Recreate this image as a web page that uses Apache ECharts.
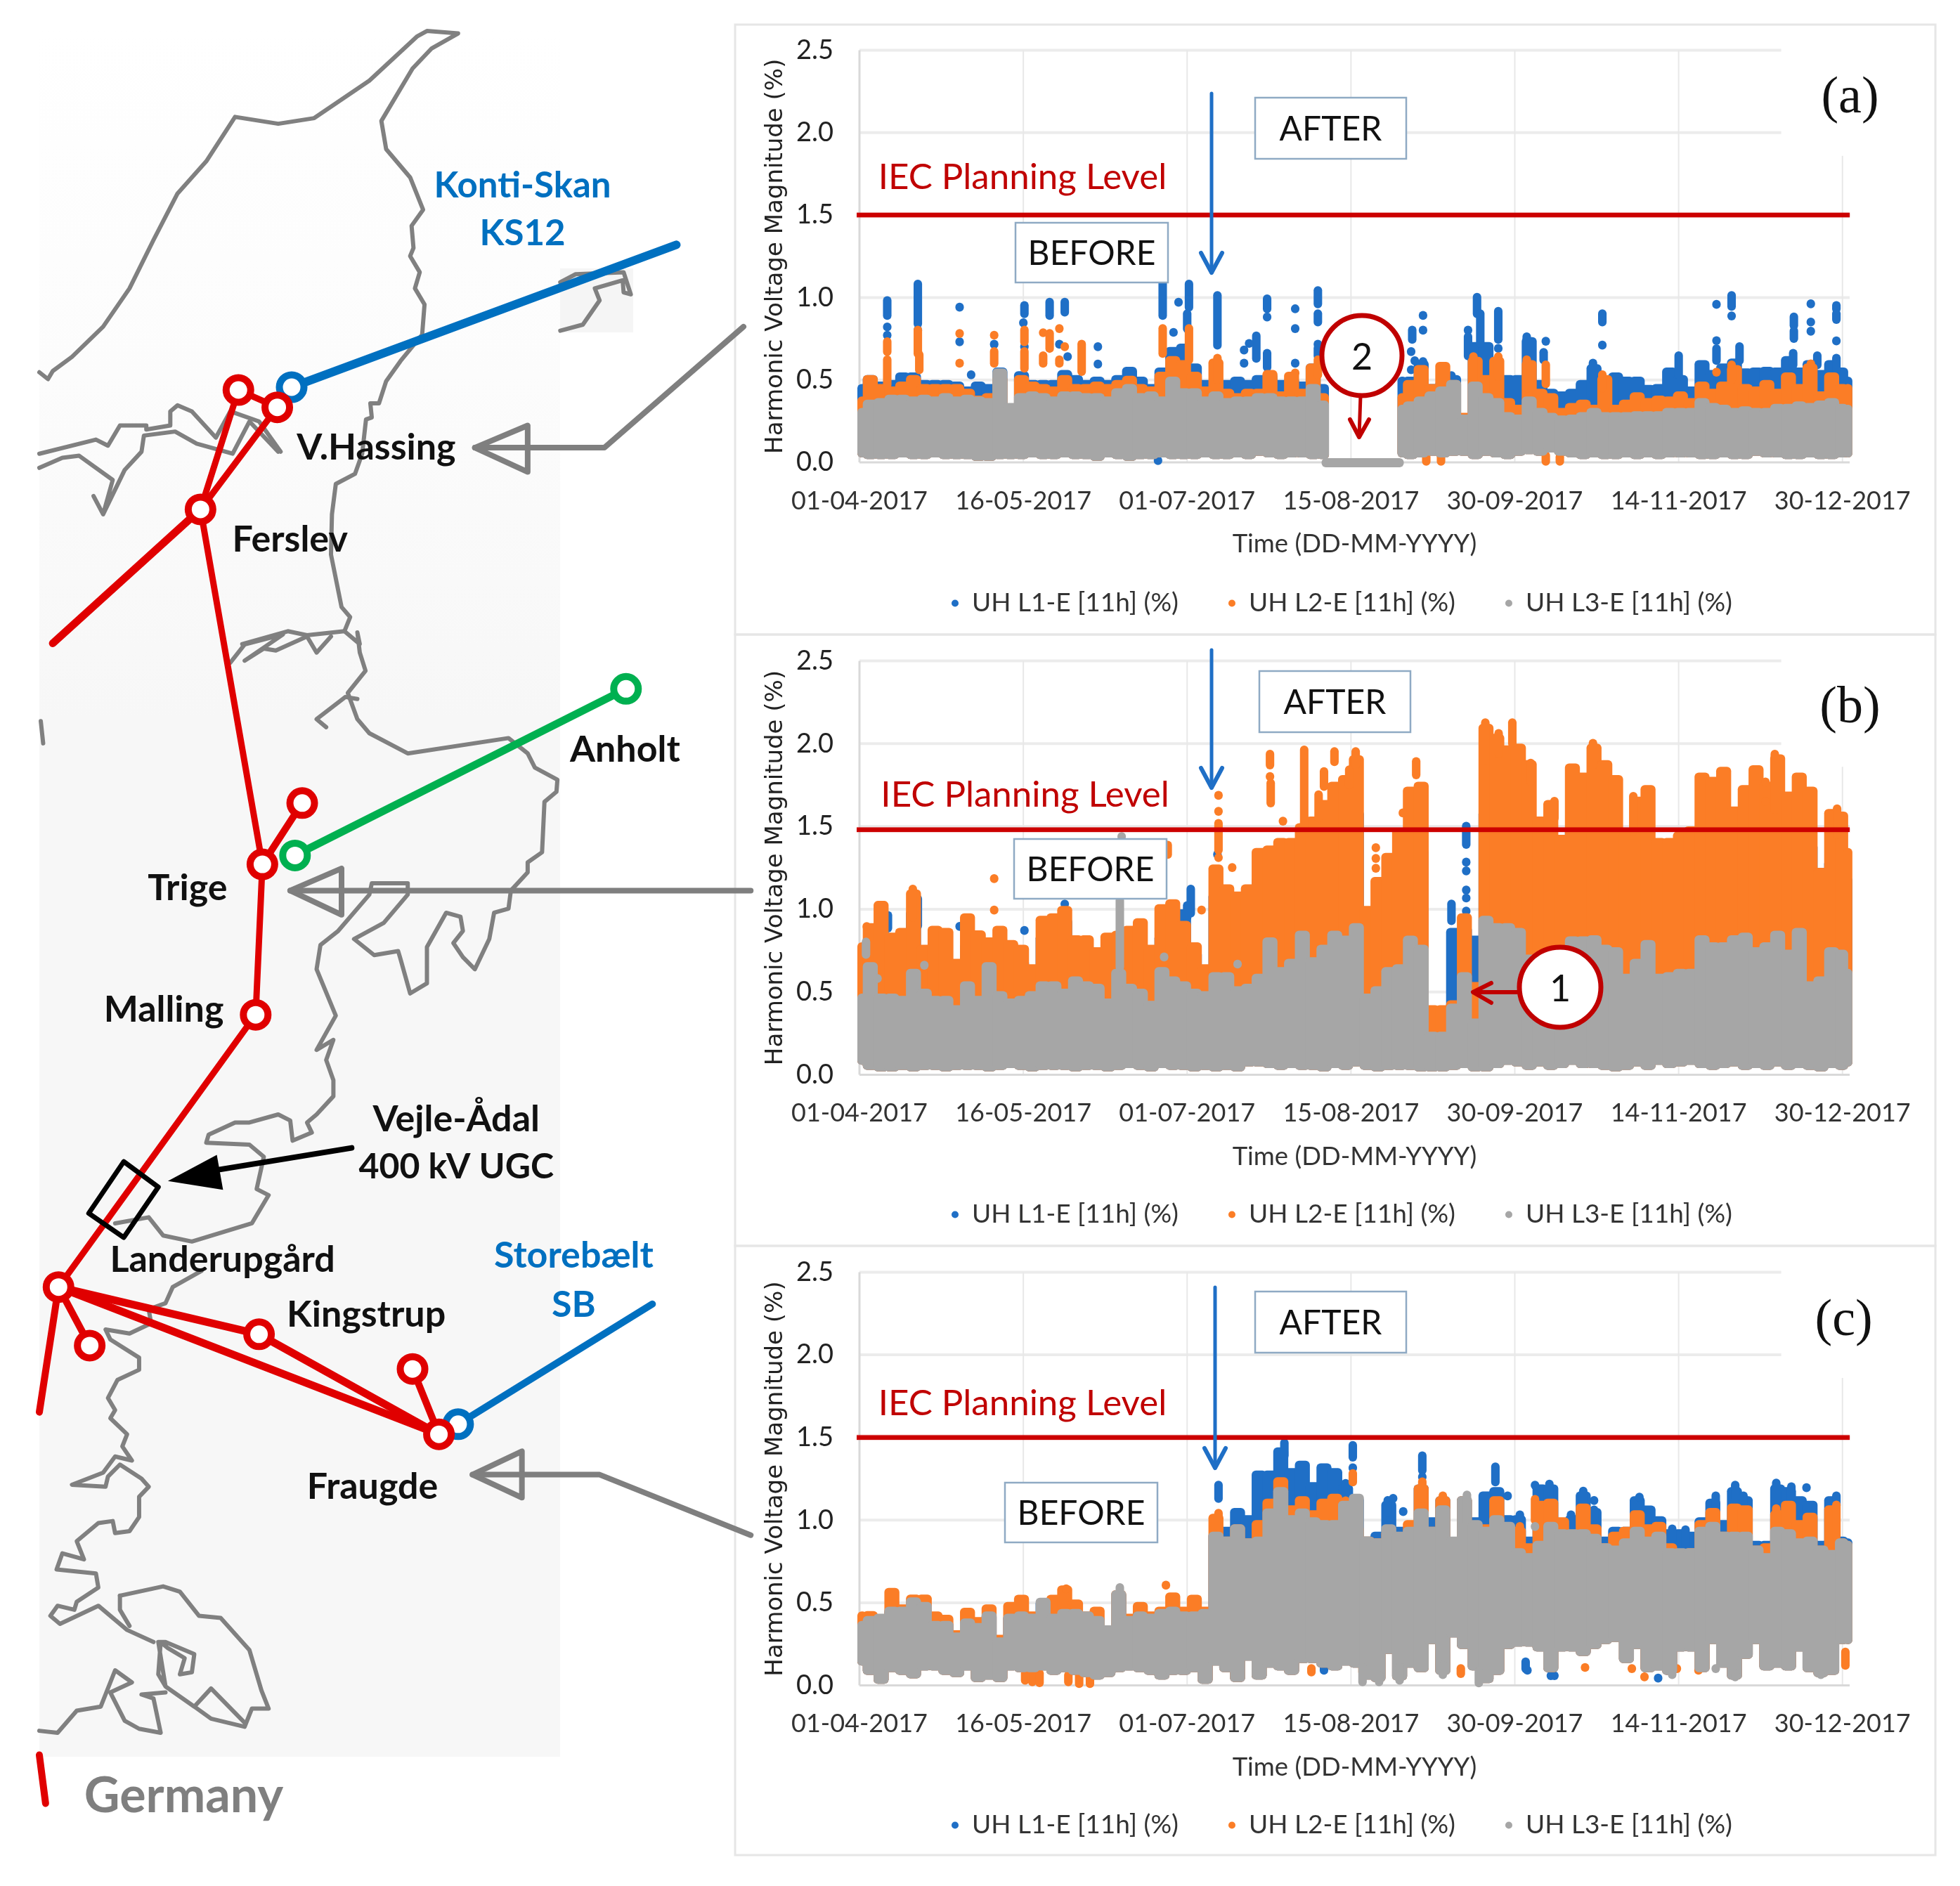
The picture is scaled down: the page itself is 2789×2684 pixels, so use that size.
<!DOCTYPE html>
<html><head><meta charset="utf-8">
<style>html,body{margin:0;padding:0;background:#fff}#c{width:2789px;height:2684px}</style>
<script src="https://cdn.jsdelivr.net/npm/echarts@6/dist/echarts.min.js"></script>
</head><body><div id="c"></div>
<script>
// ---------- chart data ----------
const tickLabels = ['01-04-2017','16-05-2017','01-07-2017','15-08-2017','30-09-2017','14-11-2017','30-12-2017'];
const seriesNames = ['UH L1-E [11h] (%)','UH L2-E [11h] (%)','UH L3-E [11h] (%)'];
// envelope sample days: 0,3,6 ... 273, 275
const binDays = [0,3,6,9,12,15,18,21,24,27,30,33,36,39,42,45,48,51,54,57,60,63,66,69,72,75,78,81,84,87,90,93,96,99,102,105,108,111,114,117,120,123,126,129,132,135,138,141,144,147,150,153,156,159,162,165,168,171,174,177,180,183,186,189,192,195,198,201,204,207,210,213,216,219,222,225,228,231,234,237,240,243,246,249,252,255,258,261,264,267,270,273,275];
const _ = null;
// Panel (a)
const topAL3 = [.33,.38,.39,.41,.41,.40,.41,.40,.42,.40, .41,.40,.39,.57,.36,.42,.43,.42,.40,.43, .43,.42,.42,.40,.45,.475,.42,.43,.40,.52, .45,.45,.40,.43,.39,.40,.40,.42,.42,.40, .40,.40,.475,.375,_,_,_,_,_,_, .35,.37,.40,.43,.46,.50,.29,.49,.42,.39, .305,.29,.40,.33,.30,.285,.29,.305,.33,.305, .305,.305,.31,.31,.31,.33,.33,.33,.39,.36, .35,.33,.34,.33,.33,.355,.355,.37,.36,.375, .39,.355,.35];
const topAL2 = [.40,.53,.475,.46,.49,.53,.475,.475,.475,.475, .447,.405,.42,.53,.355,.53,.49,.475,.46,.53, .475,.475,.49,.475,.50,.525,.475,.46,.55,.645, .62,.55,.46,.63,.447,.42,.447,.447,.56,.43, .55,.447,.60,.42,_,_,_,_,_,_, .42,.50,.59,.475,.61,.50,.30,.64,.53,.64, .39,.35,.62,.447,.42,.33,.36,.38,.35,.53, .35,.38,.425,.39,.405,.40,.43,.39,.49,.447, .49,.59,.475,.46,.50,.447,.546,.475,.60,.43, .546,.475,.475];
const topAL1 = [.475,.53,.49,.50,.546,.546,.50,.50,.50,.49, .46,.49,.475,.575,.355,.553,.50,.50,.50,.56, .53,.50,.52,.50,.53,.58,.52,.475,.575,.70, .72,.60,.50,.50,.50,.52,.50,.53,.546,.50, .52,.49,.60,.475,_,_,_,_,_,_, .52,.52,.62,.475,.50,.53,.29,.73,.73,.46, .53,.53,.76,.50,.447,.43,.447,.50,.596,.52, .546,.52,.52,.47,.475,.575,.53,.46,.62,.56, .60,.63,.57,.575,.58,.575,.645,.575,.62,.56, .62,.575,.52];
const lowA = [.03,.02,.02,.02,.03,.02,.02,.03,.02,.02, .02,.01,.01,.02,.02,.02,.03,.02,.02,.03, .02,.02,.01,.03,.02,.01,.02,.02,.03,.02, .02,.02,.03,.02,.02,.03,.02,.04,.03,.02, .03,.03,.02,.02,_,_,_,_,_,_, .03,.02,.03,.04,.03,.04,.04,.02,.04,.03, .02,.04,.05,.04,.06,.04,.03,.02,.03,.02, .02,.03,.02,.03,.02,.03,.03,.03,.02,.02, .03,.02,.02,.04,.03,.03,.02,.02,.03,.02, .02,.03,.03];
// Panel (b)
const topBL3 = [.49,.68,.49,.49,.476,.64,.52,.476,.476,.42, .565,.476,.68,.505,.46,.476,.505,.565,.565,.52, .594,.565,.55,.46,.64,.55,.52,.447,.65,.594, .565,.52,.505,.62,.62,.535,.55,.61,.83,.65, .70,.87,.71,.785,.87,.84,.916,.49,.535,.65, .667,.84,.785,.26,.26,.43,.62,.34,.96,.916, .916,.887,.726,.74,.726,.755,.836,.836,.843,.785, .77,.61,.70,.814,.61,.62,.64,.64,.843,.80, .80,.843,.858,.77,.80,.87,.755,.887,.565,.594, .77,.755,.64];
const topBL2 = [.80,.916,1.05,.858,.887,1.12,.785,.90,.887,.70, .975,.872,.83,.90,.814,.785,.667,.96,.975,1.02, .843,.843,.77,.858,.87,.90,.945,.785,1.03,1.06, .93,.80,.667,1.27,1.15,1.107,1.15,1.37,1.385,1.43, 1.43,1.52,1.56,1.66,1.77,1.81,1.93,1.02,1.195,1.34, 1.49,1.74,1.77,.42,.42,.45,.975,.56,2.12,2.06, 1.99,2.0,1.90,1.56,1.66,1.45,1.88,1.825,2.0,1.90, 1.81,1.47,1.68,1.75,1.43,1.43,1.47,1.50,1.825,1.80, 1.86,1.62,1.75,1.87,1.77,1.935,1.71,1.825,1.74,1.25, 1.605,1.59,1.37];
const topBL1 = [.70,.80,.90,.84,.80,1.0,.70,.70,.70,.65, .80,.75,.70,.75,.70,.70,.60,.85,.85,.95, .75,.75,.65,.70,.70,.75,.80,.70,.85,.90, 1.0,.75,.60,1.1,1.0,1.0,1.0,1.2,1.2,1.3, 1.3,1.4,1.4,1.5,1.5,1.6,1.6,.9,1.0,1.2, 1.3,1.4,1.37,.26,.26,.887,.90,.84,1.6,1.6, 1.6,1.6,1.5,1.3,1.4,1.3,1.5,1.5,1.6,1.6, 1.5,1.3,1.4,1.4,1.2,1.2,1.2,1.3,1.5,1.5, 1.5,1.4,1.5,1.5,1.5,1.5,1.4,1.5,1.4,1.1, 1.3,1.3,1.2];
const lowB = [.06,.03,.02,.02,.03,.02,.03,.03,.02,.03, .03,.03,.02,.03,.04,.03,.02,.03,.03,.03, .02,.03,.03,.02,.03,.04,.03,.02,.04,.03, .03,.02,.03,.02,.03,.02,.05,.05,.04,.03, .04,.03,.03,.02,.04,.03,.05,.03,.02,.03, .03,.03,.02,.02,.02,.03,.04,.02,.02,.04, .06,.05,.03,.05,.03,.04,.06,.04,.04,.03, .02,.03,.05,.03,.06,.04,.05,.06,.04,.03, .04,.05,.03,.04,.03,.05,.03,.04,.03,.02, .04,.03,.05];
// Panel (c)
const topCL3 = [.39,.42,.434,.476,.476,.533,.505,.39,.39,.32, .405,.377,.448,.29,.434,.448,.434,.53,.434,.462, .462,.448,.42,.363,.576,.42,.448,.434,.462,.476, .448,.448,.462,.93,.90,.975,.89,.90,1.07,1.20, 1.03,1.07,1.017,1.0,1.0,1.117,1.16,.90,.89,.975, .93,.96,1.07,.96,1.09,.90,1.145,1.0,.96,1.03, .99,.83,.80,.875,.99,.945,.945,.945,.917,.86, .846,.89,.96,.90,.93,.83,.83,.83,.96,.99, .93,.93,.93,.846,.80,.96,.945,.89,.90,.846, .82,.89,.875];
const topCL2 = [.448,.45,.43,.59,.49,.55,.55,.448,.427,.334, .47,.413,.49,.306,.505,.548,.448,.462,.548,.605, .52,.448,.476,.363,.576,.434,.505,.448,.476,.562, .476,.548,.476,1.038,.90,.975,.89,1.0,1.13,1.26, 1.09,1.145,1.06,1.13,1.16,1.10,.97,.90,.89,.945, .917,1.0,1.216,.96,1.145,.80,1.145,.975,.975,1.145, .975,.96,.86,1.117,1.13,1.017,.89,1.10,.975,.86, .93,.96,1.06,.975,.99,.86,.82,.83,1.0,1.074, .93,1.10,1.09,.846,.86,1.06,1.117,1.0,1.045,.846, 1.09,.89,.875];
const topCL1 = [.40,.42,.43,.47,.47,.52,.50,.39,.39,.32, .40,.37,.44,.29,.43,.44,.43,.52,.43,.46, .46,.44,.42,.36,.57,.42,.44,.43,.46,.47, .44,.44,.46,.93,.96,1.074,1.03,1.30,1.30,1.44, 1.315,1.36,1.23,1.344,1.315,1.216,1.145,.90,.93,1.117, .96,.975,1.216,1.017,1.145,.80,1.145,1.017,1.174,1.20, 1.03,1.03,.90,1.216,1.216,.945,1.03,1.174,1.074,.90, .96,.96,1.145,1.088,1.024,.945,.945,.93,1.017,1.13, 1.0,1.20,1.145,.875,.875,1.216,1.20,1.145,1.117,.875, 1.145,.90,.89];
const lowC = [.12,.064,.01,.08,.064,.043,.09,.09,.064,.05, .09,.02,.035,.02,.09,.08,.08,.09,.064,.08, .064,.05,.035,.05,.08,.09,.08,.064,.035,.064, .064,.08,.01,.12,.08,.02,.15,.035,.107,.09, .064,.135,.135,.107,.09,.12,.107,.035,.02,.19, .03,.107,.08,.25,.064,.29,.22,.09,.014,.064, .22,.235,.235,.205,.08,.205,.205,.178,.22,.25, .263,.135,.22,.08,.09,.064,.205,.205,.08,.25, .107,.035,.16,.25,.09,.107,.09,.205,.08,.05, .064,.25,.25];
// isolated runs of dots: [day, lowest, highest]
const dotsAL1 = [[7.7,.89,.98],[7.7,.82,.82],[7.7,.77,.77],[16.2,.84,1.08],[16.2,.80,.80],[27.8,.94,.94],[27.8,.73,.73],[31,.53,.53],[37.4,.715,.715],[45.8,.90,.95],[45.5,.845,.845],[45.8,.70,.70],[52.8,.89,.97],[57,.91,.97],[55.5,.715,.715],[57.8,.64,.64],[66.2,.70,.70],[66.2,.595,.595],[84.2,.89,1.09],[88.6,.97,.97],[87.2,.787,.787],[91.5,.94,1.08],[91,.81,.90],[99.4,.71,1.01],[110.2,.63,.765],[108.2,.72,.72],[106.8,.68,.68],[106.8,.60,.60],[113.2,.93,.99],[113.2,.88,.88],[113.2,.575,.66],[121,.93,.93],[121,.81,.81],[121,.60,.60],[127.3,.96,1.04],[127.3,.85,.90],[127.3,.715,.715],[127.3,.645,.69],[82.9,.01,.01],[156.5,.89,.89],[156.5,.80,.80],[156.5,.61,.61],[153.5,.745,.80],[153.2,.67,.67],[154.2,.615,.615],[153.2,.56,.56],[164.4,.525,.525],[171.5,.90,1.0],[172.4,.72,.90],[169,.80,.80],[169,.645,.76],[177.4,.745,.915],[177.4,.69,.69],[185.3,.63,.76],[190.6,.733,.733],[190,.62,.665],[203.7,.50,.60],[206.3,.85,.90],[206.3,.71,.71],[227.5,.53,.645],[238,.957,.957],[238,.737,.737],[238,.617,.688],[242.2,.945,1.01],[242.2,.887,.887],[244.4,.617,.70],[259.5,.83,.88],[259.5,.75,.795],[259.3,.59,.66],[264.2,.96,.96],[264.2,.85,.85],[264.2,.794,.794],[266,.59,.645],[271.3,.93,.95],[271.3,.865,.90],[271.3,.735,.735],[271.3,.546,.63]];
const dotsAL2 = [[7.7,.67,.73],[7.7,.47,.62],[16.2,.66,.80],[16.6,.56,.65],[27.8,.78,.78],[27.8,.60,.60],[37.4,.77,.77],[37.4,.60,.67],[45.8,.73,.80],[45.8,.57,.67],[52.8,.69,.78],[51,.785,.785],[51,.60,.645],[55.5,.81,.81],[57,.70,.70],[55.5,.60,.62],[61.7,.55,.715],[84.2,.66,.81],[91.5,.62,.81],[99.4,.50,.63],[121,.54,.54],[127.3,.53,.62],[170.5,.49,.64],[177.4,.52,.64],[185.3,.45,.62],[190.6,.475,.59],[206.3,.45,.53],[238,.546,.546],[242.2,.50,.59],[264.2,.596,.596],[157.4,.005,.03],[161.5,.005,.03],[190.6,.005,.04],[194.5,.005,.03]];
const dotsAL3 = [];
const dotsBL1 = [[16.2,.90,1.06],[7.9,.885,.96],[27.8,.895,.895],[45.8,.87,.87],[57,1.03,1.03],[92,.975,1.12],[91,.95,1.02],[98.4,.785,.887],[99.4,1.33,1.33],[156.5,1.30,1.37],[164.4,.93,1.03],[168.5,1.39,1.50],[168.5,1.283,1.283],[168.5,1.23,1.23],[168.5,1.114,1.114],[168.5,1.066,1.066],[168.5,.987,.987]];
const dotsBL2 = [[2,.894,.894],[14.8,.95,1.12],[37.4,1.183,1.183],[37.4,.993,.993],[85.6,1.33,1.385],[95,.993,.993],[103.5,1.25,1.25],[99.7,1.686,1.686],[99.7,1.59,1.59],[99.7,1.356,1.517],[99.7,1.31,1.31],[114,1.87,1.935],[114,1.80,1.80],[114.2,1.64,1.76],[123.5,1.5,1.96],[117.6,1.53,1.53],[127.5,1.55,1.69],[131.9,1.89,1.95],[136,1.75,1.84],[137.8,1.87,1.95],[129,1.74,1.83],[143.4,1.37,1.37],[143.4,1.305,1.305],[143.4,1.246,1.246],[154.6,1.81,1.89],[150.9,1.58,1.58],[173.8,1.90,2.125],[181.3,2.0,2.125],[177.5,1.94,2.06],[186.4,1.77,1.88],[193,1.55,1.65],[203.7,1.87,2.0],[214.9,1.47,1.68],[251.6,1.767,1.767],[251.6,1.65,1.65],[254.2,1.6,1.935],[271.5,1.45,1.605]];
const dotsBL3 = [[1.8,.726,.80],[72.3,.65,1.05],[72.8,1.437,1.437],[84.6,.71,.71],[5,.58,.58],[18,.66,.66],[105,.667,.667]];
const dotsCL1 = [[99.7,1.13,1.21],[118,1.39,1.465],[125.5,.19,.19],[129,.09,.13],[137,1.38,1.45],[137,1.315,1.315],[135,1.145,1.22],[156.3,1.30,1.387],[156.3,1.26,1.26],[146.7,1.045,1.117],[148.2,1.13,1.13],[151,1.05,1.05],[176.6,1.23,1.32],[180,1.145,1.145],[187.6,1.21,1.21],[191.6,1.145,1.216],[183.4,.99,1.03],[201,1.117,1.174],[204,1.117,1.117],[204,1.0,1.06],[197.6,.96,1.03],[216.6,1.138,1.138],[225.7,.875,.945],[229.4,.85,.94],[237.8,1.09,1.145],[243.2,1.13,1.21],[245.5,1.09,1.145],[254.6,1.117,1.223],[258.8,1.117,1.20],[263,1.195,1.195],[271.3,1.09,1.145],[164.5,.576,.66],[185.5,.09,.09],[192,.057,.057],[193,.057,.057],[221.8,.043,.043],[185,.10,.14]];
const dotsCL2 = [[99.7,.96,1.04],[85.1,.605,.605],[57.4,.583,.583],[125.5,.08,.10],[48,.02,.07],[50,.015,.07],[46,.03,.07],[58,.02,.06],[61,.01,.06],[64,.01,.05],[105,.05,.07],[137,1.23,1.28],[135,.96,1.115],[156.3,1.13,1.23],[162,1.074,1.145],[187.6,1.0,1.124],[183.4,.89,.96],[254.6,.96,1.067],[271.3,.90,1.09],[164.5,.747,.80],[139.7,.08,.13],[201.5,.107,.107],[214.5,.10,.10],[218,.05,.05],[233,.09,.09],[273.8,.12,.20],[198,.89,.89],[227,.1,.1],[167,.07,.1]];
const dotsCL3 = [[72.3,.43,.59],[139.7,.02,.107],[144.3,.02,.06],[150,.03,.11],[162,.064,.12],[172,.014,.08],[225.7,.064,.064],[237.8,.1,.1],[243.2,.05,.07],[267,.064,.064],[168.7,1.0,1.15],[187.6,.96,.96]];
const flatAL3 = [129.5,150,0];   // L3 sits on zero during the outage
const iecLevels = [1.5,1.48,1.5];
const yTicksToRight = [[.5,275],[1,275],[1.5,275],[2,256],[2.5,256]];
const yTop30Dec = 1.86;

// ---------- map geometry (crop coordinates of three views) ----------
const coastNorth = [[82,888],[100,905],[110,885],[150,850],[215,775],[270,680],[320,560],[370,445],[430,365],[490,255],[580,272],[655,258],[770,165],[870,55],[890,42],[955,48],[900,85],[860,135],[795,265],[805,335],[855,405],[882,485],[858,525],[862,580],[855,600],[875,640],[865,680],[885,720],[880,795],[835,860],[805,910],[790,965],[772,965],[775,1000],[763,1005],[755,1090],[740,1140],[700,1165],[692,1240],[690,1340],[712,1470],[730,1495],[718,1530],[750,1562]];
const fjordA = [[82,1090],[200,1055],[225,1070],[250,1020],[305,1020],[305,1030],[355,1020],[355,985],[370,970],[400,985],[450,1050],[480,985],[540,1010],[585,1085]];
const fjordB = [[82,1125],[130,1100],[165,1095],[235,1155],[215,1240],[195,1195],[215,1240],[260,1130],[295,1085],[300,1045],[365,1035],[410,1065],[485,1090],[520,1010],[580,1085]];
const fjordC = [[505,1562],[600,1530],[640,1540],[718,1530]];
const hesse = [[1168,665],[1200,645],[1300,640],[1315,695],[1300,690],[1298,660],[1240,680],[1250,710],[1215,770],[1168,785]];
const coastMid = [[745,0],[750,50],[762,95],[725,150],[745,215],[770,250],[850,300],[1060,262],[1100,300],[1115,335],[1162,365],[1160,395],[1135,420],[1130,545],[1100,570],[1100,595],[1065,640],[1060,685],[1030,695],[1020,760],[990,835],[965,805],[945,770],[965,740],[960,705],[930,695],[890,780],[890,870],[855,895],[835,810],[830,790],[780,800],[738,760],[800,720],[850,650],[850,622],[775,622],[770,650],[705,740],[668,775],[660,835],[700,950],[660,1035],[695,1010],[680,1060],[695,1110],[695,1150],[660,1195],[640,1215],[650,1240],[610,1260],[605,1210],[580,1195],[520,1215],[490,1215],[435,1245],[430,1265],[520,1270],[550,1300],[535,1380],[560,1395],[525,1465],[400,1510],[340,1495],[310,1450],[240,1465]];
const fjordD = [[480,75],[510,30],[590,5],[510,70],[550,40],[575,45],[640,10],[660,50],[690,10]];
const islet = [[680,235],[660,215],[720,160],[745,165]];
const westBit = [[85,220],[90,275]];
const coastSouth = [[420,50],[360,90],[345,130],[310,145],[315,180],[270,205],[220,195],[230,220],[290,265],[290,295],[245,320],[225,365],[240,395],[230,415],[265,455],[255,485],[275,520],[240,510],[215,550],[150,580],[220,585],[225,560],[250,530],[295,565],[310,585],[290,610],[290,660],[270,695],[240,700],[235,670],[205,675],[160,720],[175,765],[130,750],[118,790],[200,800],[205,835],[160,870],[155,890],[120,880],[105,905],[125,925],[205,880],[265,940],[320,970]];
const alsIsland = [[250,855],[340,832],[375,845],[415,905],[460,910],[520,990],[545,1090],[560,1135],[525,1135],[510,1180],[440,1160],[405,1130],[345,1080],[330,970],[345,970],[405,1000],[400,1045],[375,1050],[385,1010],[350,985],[335,970],[330,1050],[345,1080],[405,1130],[440,1085],[510,1170]];
const alsNeck = [[270,930],[250,890],[250,855]];
const coastGerman = [[82,1190],[120,1195],[160,1140],[210,1130],[240,1040],[275,1070],[230,1095],[260,1165],[290,1185],[335,1195],[320,1110],[295,1100],[345,1095]];

// ---------- helpers ----------
const z4 = p => p.map(([x,y]) => [x/1.465, 20+y/1.742]);
const z5 = p => p.map(([x,y]) => [x/1.465, 900+y/1.742]);
const z6 = p => p.map(([x,y]) => [x/1.465, 1780+y/1.742]);
const S = 2789/1568;
const colors = ['#1F6FC6','#FB7D26','#A6A6A6'];
const LAT = 'Lato, "Noto Sans", sans-serif';

const mapColors = {coast:'#808080', red:'#E00000', blue:'#0070C0', green:'#00B050', gray:'#7F7F7F', black:'#000'};
const nRedA=z4([[497,932]])[0], nRedB=z4([[578,975]])[0], nFers=z4([[418,1228]])[0], nBlueKS=z4([[608,925]])[0], endKS=z4([[1410,572]])[0], endSW=z4([[110,1560]])[0];
const nTrige=z5([[547,575]])[0], nTsm=z5([[630,423]])[0], nMall=z5([[533,948]])[0], nGr1=z5([[615,553]])[0], nGr2=z5([[1305,140]])[0];
const nLand=z6([[122,90]])[0], nLsm=z6([[187,235]])[0], nKing=z6([[540,207]])[0], nFsm=z6([[860,293]])[0], nFrau=z6([[915,455]])[0], nSB=z6([[955,430]])[0], endSB=z6([[1360,132]])[0];

const series = [], grids = [], xAxes = [], yAxes = [], legends = [];

// map grid (pixel scale, hidden axes) ---------------------------------
grids.push({left:0,top:0,width:2789,height:2684,show:false});
xAxes.push({type:'value',gridIndex:0,min:0,max:2789,show:false});
yAxes.push({type:'value',gridIndex:0,min:0,max:2684,inverse:true,show:false});
function mapLine(name,data,color,width,z){
  series.push({type:'line',name,xAxisIndex:0,yAxisIndex:0,data,showSymbol:false,symbol:'none',silent:true,animation:false,z:z||1,
    lineStyle:{color,width,cap:'round',join:'round'}});
}
[z4(coastNorth).concat(z5(coastMid)), z4(fjordA), z4(fjordB), z4(fjordC), z4(hesse), z5(fjordD), z5(islet), z5(westBit), z6(coastSouth), z6(alsIsland), z6(alsNeck), z6(coastGerman)]
  .forEach((p,i)=>mapLine('coast'+i,p,mapColors.coast,6,1));
mapLine('KS12',[nBlueKS,endKS],mapColors.blue,12,2);
mapLine('SB',[nSB,endSB],mapColors.blue,10,2);
mapLine('Anholt',[nGr1,nGr2],mapColors.green,11,2);
[[nFers,endSW],[nFers,nRedA],[nFers,nRedB],[nRedA,nRedB],[nFers,nTrige],[nTrige,nTsm],[nTrige,nMall],[nMall,nLand],[nLand,nLsm],[nLand,nKing],[nKing,nFrau],[nLand,nFrau],[nFsm,nFrau],
 [nLand,z6([[82,400]])[0]],[z6([[82,1250]])[0],z6([[95,1370]])[0]]].forEach((p,i)=>mapLine('red'+i,p,mapColors.red,[11,9,9,9,9,10,9,9,10,11,11,11,10,10,10][i],3));
function nodes(name,data,color,z){
  series.push({type:'scatter',name,xAxisIndex:0,yAxisIndex:0,data,symbol:'circle',symbolSize:35,silent:true,animation:false,z,
    itemStyle:{color:'#fff',borderColor:color,borderWidth:10,opacity:1}});
}
nodes('nodeBlue',[nBlueKS,nSB],mapColors.blue,3);
nodes('nodeGreen',[nGr1,nGr2],mapColors.green,3);
nodes('nodeRed',[nRedA,nRedB,nFers,nTrige,nTsm,nMall,nLand,nLsm,nKing,nFsm,nFrau],mapColors.red,4);
// UGC box and arrows
mapLine('ugcBox',z5([[258,1312],[330,1375],[258,1500],[185,1440],[258,1312]]),mapColors.black,7,5);
mapLine('ugcArrow',z5([[733,1278],[440,1335]]),mapColors.black,8,5);
series.push({type:'custom',name:'ugcHead',xAxisIndex:0,yAxisIndex:0,silent:true,animation:false,z:5,
  data:[z5([[350,1360],[452,1295],[465,1382]]).flat()],
  renderItem:(p,api)=>({type:'polygon',shape:{points:[[0,1],[2,3],[4,5]].map(i=>api.coord([api.value(i[0]),api.value(i[1])]))},style:{fill:'#000'}})});
[[z4,[[990,1075],[1100,1020],[1100,1135],[990,1075]],[[990,1075],[1260,1075],[1550,775]]],
 [z5,[[605,640],[712,585],[712,700],[605,640]],[[605,640],[1565,640]]],
 [z6,[[985,555],[1088,497],[1088,612],[985,555]],[[985,555],[1250,555],[1565,705]]]].forEach((a,i)=>{
  mapLine('pointerHead'+i,a[0](a[1]),mapColors.gray,8,5);
  mapLine('pointer'+i,a[0](a[2]),mapColors.gray,8,5);
});

// the three panels -----------------------------------------------------
const panels = [
 {top:71.5, h:586.5, legendTop:840, tops:[topAL1,topAL2,topAL3], low:lowA, dots:[dotsAL1,dotsAL2,dotsAL3], flat:flatAL3, iec:iecLevels[0]},
 {top:940.5,h:589,   legendTop:1710,tops:[topBL1,topBL2,topBL3], low:lowB, dots:[dotsBL1,dotsBL2,dotsBL3], iec:iecLevels[1]},
 {top:1810.5,h:588,  legendTop:2579,tops:[topCL1,topCL2,topCL3], low:lowC, dots:[dotsCL1,dotsCL2,dotsCL3], iec:iecLevels[2]}
];
const STROKE = 12;
const bandItem = (color) => (params,api) => {
  const v=api.value, inset = v(6)===1 ? STROKE/2 : 0;
  const a=api.coord([v(0),v(1)]), b=api.coord([v(0),v(2)]), c=api.coord([v(3),v(5)]), d=api.coord([v(3),v(4)]);
  const bot=Math.max(a[1],d[1])-inset, top=Math.min(b[1]+inset,bot);
  const pts = v(6)===1 ? [[a[0]+inset*.5,bot],[a[0]+inset*.5,top],[d[0]-inset*.5,top],[d[0]-inset*.5,bot]] : [a,b,c,d];
  return {type:'polygon',shape:{points:pts},style:{fill:color,stroke:color,lineWidth:STROKE,lineJoin:'round'}};
};
const segItem = (params,api) => {
  const v=api.value;
  return {type:'line',shape:{x1:api.coord([v(0),v(1)])[0],y1:api.coord([v(0),v(1)])[1],x2:api.coord([v(2),v(3)])[0],y2:api.coord([v(2),v(3)])[1]},
    style:{stroke:v(4)===1?'#ECECEC':(v(4)===2?'#E8E8E8':'#D9D9D9'),lineWidth:v(4)===1?4:(v(4)===2?2:3)}};
};
panels.forEach((P,i)=>{
  const g=i+1;
  grids.push({left:1223,top:P.top,width:1409,height:P.h,show:false});
  xAxes.push({type:'value',gridIndex:g,min:0,max:275,interval:45.5,
    name:'Time (DD-MM-YYYY)',nameLocation:'middle',nameGap:98,
    nameTextStyle:{fontFamily:LAT,fontSize:36.5,color:'#333'},
    axisLine:{show:false},axisTick:{show:false},splitLine:{show:false},
    axisLabel:{show:true,margin:37,showMaxLabel:false,showMinLabel:true,fontFamily:LAT,fontSize:36,color:'#333',
      formatter:v=>tickLabels[Math.round(v/45.5)]||''}});
  yAxes.push({type:'value',gridIndex:g,min:0,max:2.5,interval:.5,
    name:'Harmonic Voltage Magnitude (%)',nameLocation:'middle',nameGap:102,
    nameTextStyle:{fontFamily:'"DejaVu Sans"',fontSize:34,color:'#222'},
    axisLine:{show:false},axisTick:{show:false},splitLine:{show:false},
    axisLabel:{margin:37,fontFamily:LAT,fontSize:38,color:'#222',formatter:v=>v.toFixed(1)}});
  // gridlines
  const segs=[];
  yTicksToRight.forEach(([y,end])=>segs.push([0,y,end,y,1]));
  [45.5,91,136.5,182,227.5].forEach(x=>segs.push([x,0,x,2.5,2]));
  segs.push([273,0,273,yTop30Dec,2]);
  segs.push([0,0,0,2.5,3]); segs.push([0,0,275,0,3]);
  series.push({type:'custom',name:'grid'+i,xAxisIndex:g,yAxisIndex:g,data:segs,renderItem:segItem,silent:true,animation:false,z:0});
  // the three measured traces: stepped envelope of the dot cloud, then isolated dots
  seriesNames.forEach((nm,k)=>{
    const top=P.tops[k], low=P.low, items=[];
    for(let b=0;b<binDays.length;b++){
      if(top[b]==null) continue;
      const d=binDays[b], prev=b>0&&top[b-1]!=null, next=b+1<binDays.length&&top[b+1]!=null;
      const L=b===0?0:(prev?(binDays[b-1]+d)/2:d), R=b+1===binDays.length?275:(next?(d+binDays[b+1])/2:d+.8);
      items.push([L,Math.min(low[b],top[b]),top[b],R,Math.min(low[b],top[b]),top[b],1]);
    }
    P.dots[k].forEach(([d,lo,hi])=>items.push([d,lo,hi+.003,d+.02,lo,hi+.003,0]));
    if(k===2&&P.flat) items.push([P.flat[0],P.flat[2]-.004,P.flat[2],P.flat[1],P.flat[2]-.004,P.flat[2],0]);
    series.push({type:'custom',name:nm,xAxisIndex:g,yAxisIndex:g,data:items,renderItem:bandItem(colors[k]),
      itemStyle:{color:colors[k]},silent:true,animation:false,z:2+k});
  });
  // IEC planning level
  series.push({type:'line',name:'IEC Planning Level',xAxisIndex:g,yAxisIndex:g,data:[[-1,P.iec],[275,P.iec]],symbol:'none',silent:true,animation:false,z:6,
    lineStyle:{color:'#CC0000',width:6.5,shadowBlur:2,shadowColor:'rgba(204,0,0,.5)'}});
  legends.push({data:seriesNames,left:1354,top:P.legendTop,icon:'circle',itemWidth:10,itemHeight:10,itemGap:71,padding:0,selectedMode:false,
    textStyle:{fontFamily:LAT,fontSize:37,color:'#333',padding:[0,0,0,14]}});
});

// annotations ------------------------------------------------------------
const g=[];
const txt=(text,sx,sy,size,fill,weight,family)=>g.push({type:'text',x:sx*S,y:sy*S,z:100,silent:true,
  style:{text,fontFamily:family||LAT,fontSize:size,fontWeight:weight||'normal',fill,align:'center',verticalAlign:'middle',textAlign:'center',textVerticalAlign:'middle'}});
const poly=(pts,stroke,w,z)=>g.push({type:'polyline',z:z||99,silent:true,shape:{points:pts},style:{stroke,lineWidth:w,fill:'none',lineJoin:'round',lineCap:'round'}});
// map background
g.push({type:'rect',z:-5,silent:true,shape:{x:56,y:40,width:741,height:2460},style:{fill:{type:'linear',x:0,y:0,x2:0,y2:1,colorStops:[{offset:0,color:'#FFFFFF'},{offset:.2,color:'#FCFCFC'},{offset:.4,color:'#F7F7F7'},{offset:1,color:'#F7F7F7'}]}}});
g.push({type:'rect',z:-5,silent:true,shape:{x:797,y:382,width:104,height:91},style:{fill:'#F5F5F5'}});
// panel frames
[[35,868],[903,870],[1773,867]].forEach(([y,h])=>g.push({type:'rect',z:-4,silent:true,shape:{x:1046,y,width:1708,height:h},style:{fill:'none',stroke:'#E6E6E6',lineWidth:3}}));
// BEFORE / AFTER boxes
const box=(x,y,w,h)=>g.push({type:'rect',z:98,silent:true,shape:{x,y,width:w,height:h},style:{fill:'#fff',stroke:'#8FAAC4',lineWidth:2.5}});
[[1786,139,215,87,'AFTER'],[1445,317,217,85,'BEFORE'],[1792,955,215,87,'AFTER'],[1443,1194,217,85,'BEFORE'],[1786,1838,215,87,'AFTER'],[1430,2110,217,85,'BEFORE']].forEach(b=>{
  box(b[0],b[1],b[2],b[3]);
  g.push({type:'text',x:b[0]+b[2]/2,y:b[1]+b[3]/2+2,z:100,silent:true,style:{text:b[4],fontFamily:LAT,fontSize:48,fill:'#111',align:'center',verticalAlign:'middle',textAlign:'center',textVerticalAlign:'middle'}});
});
// blue AFTER arrows
[[1724,133,388],[1724,925,1121],[1729,1832,2089]].forEach(([x,y0,y1])=>{
  poly([[x,y0],[x,y1]],'#1F6FC6',5);
  poly([[x-15,y1-28],[x,y1],[x+15,y1-28]],'#1F6FC6',6);
});
// numbered circles
const ring=(cx,cy,rx,ry,t)=>{g.push({type:'ellipse',z:98,silent:true,shape:{cx,cy,rx,ry},style:{fill:'#fff',stroke:'#C00000',lineWidth:7}});
  g.push({type:'text',x:cx,y:cy+3,z:100,silent:true,style:{text:t,fontFamily:LAT,fontSize:52,fill:'#111',align:'center',verticalAlign:'middle',textAlign:'center',textVerticalAlign:'middle'}});};
ring(1938,506,57,57,'2'); ring(2220,1405,58,57,'1');
poly([[1936,563],[1934,621]],'#C00000',5); poly([[1921,597],[1934,622],[1948,597]],'#C00000',6);
poly([[2162,1412],[2097,1412]],'#C00000',6); poly([[2122,1399],[2096,1412],[2122,1427]],'#C00000',6);
// IEC labels and panel tags
[142,636,1123].forEach((y,i)=>txt('IEC Planning Level',[818,820,818][i],y,51,'#C00000'));
txt('(a)',1480,79,74,'#111','normal','"Liberation Serif"');
txt('(b)',1480,567,74,'#111','normal','"Liberation Serif"');
txt('(c)',1475,1057,74,'#111','normal','"Liberation Serif"');
// map labels
[['Konti-Skan',418,149,'#0070C0'],['KS12',418,187,'#0070C0'],['V.Hassing',301,358,'#111'],['Ferslev',232,432,'#111'],['Anholt',500,600,'#111'],['Trige',150,711,'#111'],['Malling',131,808,'#111'],
 ['Vejle-Ådal',365,896,'#111'],['400 kV UGC',365,934,'#111'],['Landerupgård',178,1008,'#111'],['Storebælt',459,1005,'#0070C0'],['SB',459,1044,'#0070C0'],['Kingstrup',293,1052,'#111'],['Fraugde',298,1190,'#111']]
 .forEach(t=>txt(t[0],t[1],t[2],t[0]==='400 kV UGC'?50:(t[0]==='Konti-Skan'||t[0]==='KS12'?51:52),t[3],'bold'));
txt('Germany',147,1437,70,'#7F7F7F','bold');

const chart = echarts.init(document.getElementById('c'),null,{renderer:'canvas'});
chart.setOption({backgroundColor:'#fff',animation:false,grid:grids,xAxis:xAxes,yAxis:yAxes,legend:legends,series,graphic:{elements:g},tooltip:{show:false}});
</script></body></html>
